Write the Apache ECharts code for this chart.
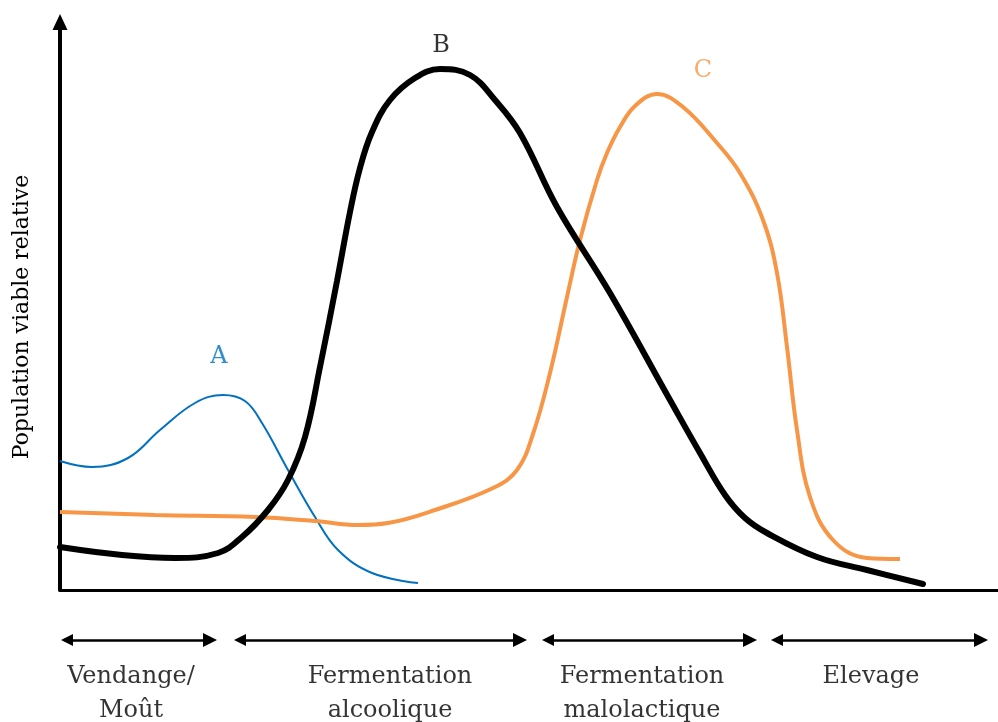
<!DOCTYPE html>
<html>
<head>
<meta charset="utf-8">
<script src="https://cdn.jsdelivr.net/npm/echarts@6/dist/echarts.min.js"></script>
<style>
  html, body { margin: 0; padding: 0; background: #fff; }
  #main { width: 998px; height: 722px; }
</style>
</head>
<body>
<div id="main"></div>
<script>
var curveA = [[0,129],[32,123],[68,132],[100,160],[135,187],[163,195],[185,189],[202,167],[228,120],[255,73],[278,40],[312,17],[358,7]];
var curveB = [[0,43],[62,35],[115,32],[158,37],[182,53],[208,80],[228,110],[245,153],[260,223],[277,309],[290,378],[300,422],[312,458],[330,490],[355,512],[380,521],[410,515],[435,490],[460,457],[497,383],[550,297],[610,190],[640,137],[665,95],[685,72],[707,57],[757,33],[807,20],[863,6]];
var curveC = [[0,78],[95,75],[195,73],[255,69],[298,65],[328,67],[375,80],[433,102],[457,120],[473,156],[490,217],[507,293],[520,350],[537,410],[547,437],[560,463],[575,484],[597,496],[623,483],[657,447],[680,417],[703,370],[717,317],[727,243],[737,160],[750,93],[773,50],[807,32],[840,31]];

var curveNames = ['A', 'B', 'C'];
var curveLabelPos = [[159,233],[381,544],[643,519]];

var phaseNames = ['Vendange/\nMoût', 'Fermentation\nalcoolique', 'Fermentation\nmalolactique', 'Elevage'];
var phaseStart = [0, 173, 481, 710];
var phaseEnd = [157, 467, 697, 928];
var phaseLabelX = [71, 330, 582, 811];

var colors = ['#0070C0', '#000000', '#F79646'];
var serif = 'DejaVu Serif';
var headLen = 14;

var myChart = echarts.init(document.getElementById('main'));

var phaseLines = [];
for (var i = 0; i < phaseNames.length; i++) {
    // les pointes de flèche sont centrées sur les extrémités
    phaseLines.push({ coords: [[phaseStart[i] + headLen / 2, 0.5], [phaseEnd[i] - headLen / 2, 0.5]] });
}
var phaseLabels = [];
for (var i = 0; i < phaseNames.length; i++) {
    phaseLabels.push({ value: [phaseLabelX[i], 0.5], name: phaseNames[i] });
}
var letterPts = [];
for (var i = 0; i < curveNames.length; i++) {
    letterPts.push({
        value: curveLabelPos[i], name: curveNames[i],
        label: { color: colors[i] }
    });
}

var option = {
    animation: false,
    grid: [
        { left: 60, right: 0, top: 22, bottom: 132 },
        { left: 60, right: 0, top: 630, height: 20 }
    ],
    xAxis: [
        {
            type: 'value', gridIndex: 0, min: 0, max: 938,
            axisLine: { lineStyle: { color: '#000', width: 3 } },
            axisTick: { show: false }, axisLabel: { show: false }, splitLine: { show: false }
        },
        { type: 'value', gridIndex: 1, min: 0, max: 938, show: false }
    ],
    yAxis: [
        {
            type: 'value', gridIndex: 0, min: 0, max: 568,
            name: 'Population viable relative',
            nameLocation: 'middle', nameGap: 27, nameRotate: 90,
            nameTextStyle: { fontFamily: serif, fontSize: 22, color: '#000', padding: [0, 22, 0, 0] },
            axisLine: {
                show: true, symbol: ['none', 'triangle'], symbolSize: [15, 16],
                lineStyle: { color: '#000', width: 4 }
            },
            axisTick: { show: false }, axisLabel: { show: false }, splitLine: { show: false }
        },
        { type: 'value', gridIndex: 1, min: 0, max: 1, show: false }
    ],
    series: [
        {
            name: 'A', type: 'line', data: curveA, smooth: 0.4, showSymbol: false,
            lineStyle: { color: colors[0], width: 2 }
        },
        {
            name: 'C', type: 'line', data: curveC, smooth: 0.4, showSymbol: false,
            lineStyle: { color: colors[2], width: 4 }
        },
        {
            name: 'B', type: 'line', data: curveB, smooth: 0.4, showSymbol: false,
            lineStyle: { color: colors[1], width: 6, cap: 'round' }
        },
        {
            type: 'scatter', data: letterPts, symbolSize: 0, silent: true,
            label: {
                show: true, position: 'inside', formatter: '{b}',
                fontFamily: serif, fontSize: 24
            }
        },
        {
            type: 'lines', coordinateSystem: 'cartesian2d', xAxisIndex: 1, yAxisIndex: 1,
            data: phaseLines, symbol: ['triangle', 'triangle'], symbolSize: [12, headLen],
            lineStyle: { color: '#000', width: 2.5, opacity: 1 }, silent: true
        },
        {
            type: 'scatter', xAxisIndex: 1, yAxisIndex: 1, data: phaseLabels,
            symbolSize: 0, silent: true,
            label: {
                show: true, position: 'inside', formatter: '{b}',
                align: 'center', verticalAlign: 'top', offset: [0, 20],
                fontFamily: serif, fontSize: 24, lineHeight: 34, color: '#000'
            }
        }
    ]
};

myChart.setOption(option);
</script>
</body>
</html>
